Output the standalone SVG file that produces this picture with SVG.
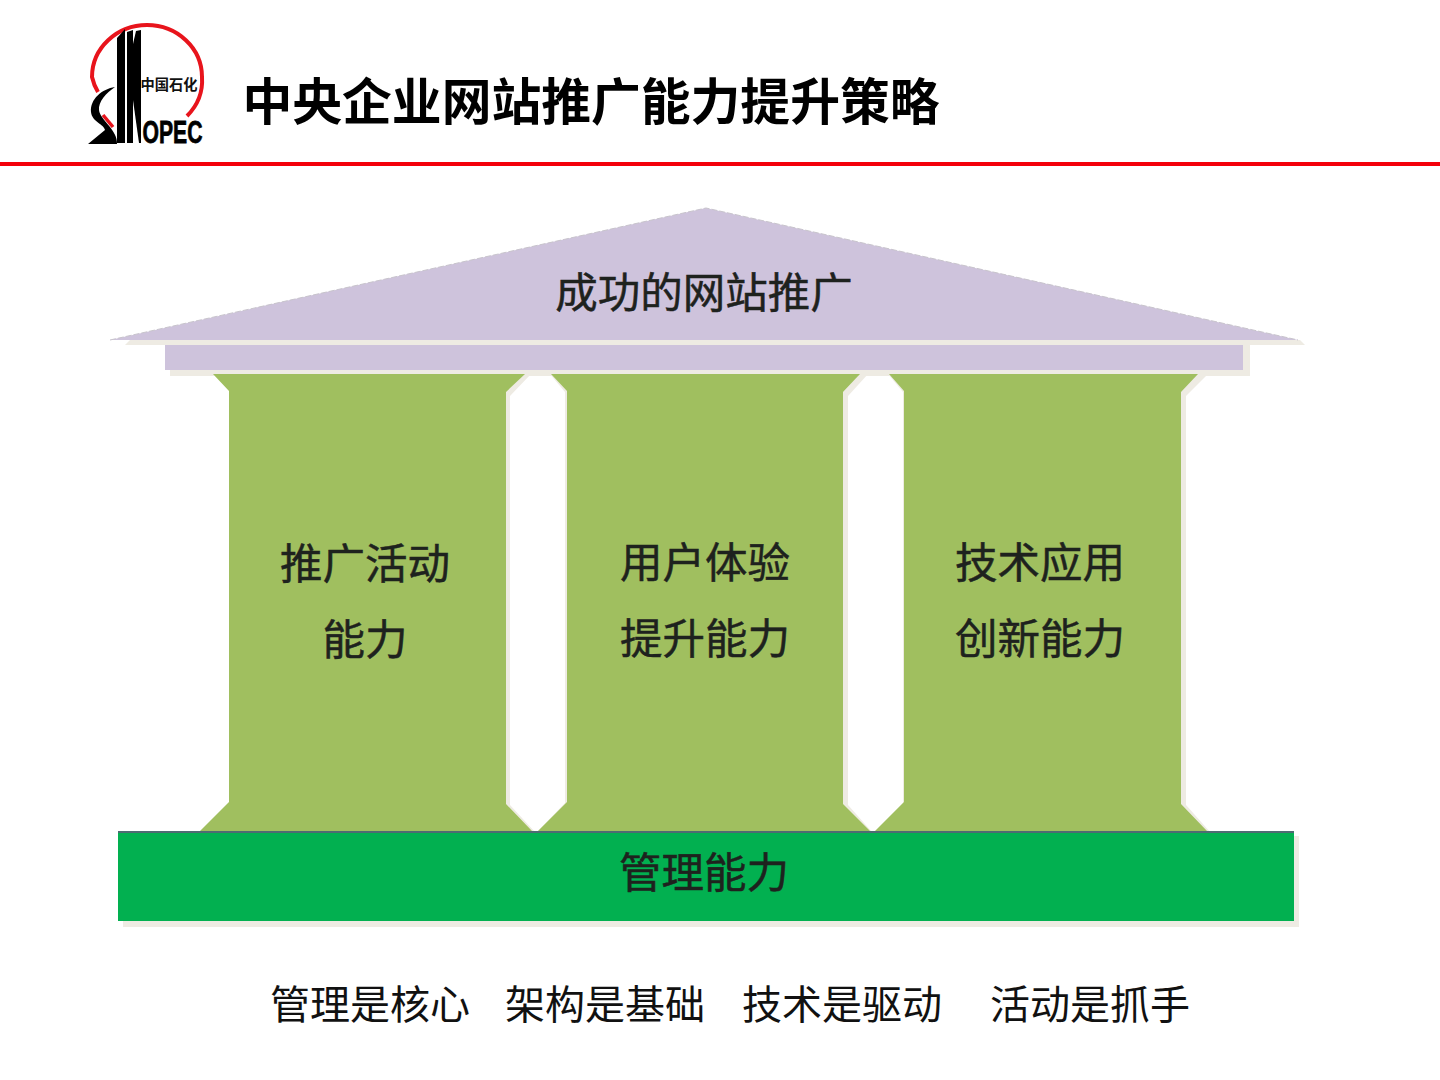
<svg xmlns="http://www.w3.org/2000/svg" width="1440" height="1080" viewBox="0 0 1440 1080">
<style>
text{font-family:"Noto Sans CJK SC","Liberation Sans",sans-serif;text-anchor:middle}
.t{font-size:42.5px;fill:#1e221e;stroke:#1e221e;stroke-width:.5}
.sh{fill:#eeebe3}
.pillar{fill:#a0bf5f}
.roof{fill:#cec3dc}
.k{fill:#000}
</style>
<rect width="1440" height="1080" fill="#fff"/>
<g id="logo">
<path d="M98 92A55 52 0 0 1 92 77A55 52 0 0 1 147 25A55 52 0 0 1 202 77A55 52 0 0 1 187 116" fill="none" stroke="#e8141c" stroke-width="4"/>
<path d="M103 115L113 127" stroke="#e8141c" stroke-width="3.500" fill="none"/>
<path class="k" d="M117 38L125 29V143H117Z"/>
<path class="k" d="M127 32L133 30V143H127Z"/>
<path class="k" d="M133 44L136 31L141 30V143H139L133 100Z"/>
<path class="k" d="M115 87C102 89 90 99 91 112C92 122 104 124 105 130L88 144H117C118 130 100 120 99 110C98 102 106 93 115 87Z"/>
<text x="169" y="90" style="font-size:14.500px;font-weight:700" textLength="57" lengthAdjust="spacingAndGlyphs" fill="#111">中国石化</text>
<text x="172.500" y="143" style="font-family:'Liberation Sans',sans-serif;font-size:32px;font-weight:700;stroke:#000;stroke-width:.8" textLength="60" lengthAdjust="spacingAndGlyphs" fill="#000">OPEC</text>
</g>
<g id="title">
<text x="591" y="120" style="font-size:50px;font-weight:700" fill="#000" textLength="697" lengthAdjust="spacingAndGlyphs">中央企业网站推广能力提升策略</text>
</g>
<rect id="rule" x="0" y="162" width="1440" height="4" fill="#f4000a"/>
<g id="node-roof">
<path class="sh" d="M125 345H1305L1300 340H130Z"/>
<path class="roof" d="M110 340L706 208L1298 340Z"/>
<path d="M110 340L706 208L1298 340" fill="none" stroke="#c8c4cc" stroke-width="1" stroke-dasharray="6 2"/>
<rect class="sh" x="170" y="345" width="1080" height="31"/>
<rect class="roof" x="165" y="345" width="1078" height="25"/>
<text class="t" x="704" y="308">成功的网站推广</text>
</g>
<g id="node-pillar-1">
<path class="sh" d="M522 374L531 374L510 396V805L535 832H525L505 805V392Z"/>
<path class="pillar" d="M213 374H525L506 392V804L532 831H200L229 802V391Z"/>
<text class="t" x="365" y="579">推广活动</text>
<text class="t" x="365" y="655">能力</text>
</g>
<g id="node-pillar-2">
<path class="sh" d="M860 374L868 374L848 396V805L872 832H862L843 805V392Z"/>
<path class="sh" d="M550 374H557L568 390V803L540 832H537L565 803V392Z"/>
<path class="pillar" d="M551 374H860L843 392V804L870 831H538L567 802V391Z"/>
<text class="t" x="705" y="578">用户体验</text>
<text class="t" x="705" y="654">提升能力</text>
</g>
<g id="node-pillar-3">
<path class="sh" d="M888 374H895L906 390V803L877 832H875L903 803V392Z"/>
<path class="sh" d="M1196 374L1208 374L1186 396V805L1210 832H1200L1180 805V392Z"/>
<path class="pillar" d="M889 374H1198L1181 392V804L1207 831H875L904 802V391Z"/>
<text class="t" x="1040" y="578">技术应用</text>
<text class="t" x="1040" y="654">创新能力</text>
</g>
<g id="node-base">
<rect class="sh" x="123" y="836" width="1176" height="91"/>
<rect x="118" y="831" width="1176" height="90" fill="#02b050"/>
<rect x="118" y="831" width="1176" height="2" fill="#4e6b72"/>
<text class="t" x="704" y="888">管理能力</text>
</g>
<g id="slogans" style="font-size:40px" fill="#111">
<text x="370" y="1019">管理是核心</text>
<text x="605" y="1019">架构是基础</text>
<text x="842" y="1019">技术是驱动</text>
<text x="1090" y="1019">活动是抓手</text>
</g>
</svg>
